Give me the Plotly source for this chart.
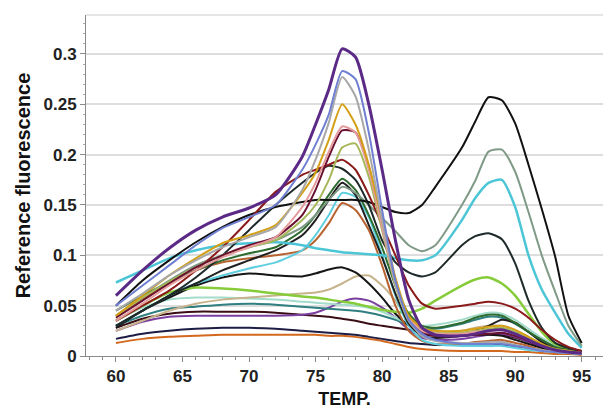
import plotly.graph_objects as go

T = [60, 62, 64, 66, 68, 70, 72, 74, 75, 76, 77, 78, 79, 80, 81, 82, 83, 84, 86, 87, 88, 89, 90, 91, 92, 93, 94, 95]

orange_low = [0.013, 0.017, 0.019, 0.020, 0.021, 0.021, 0.021, 0.021, 0.021, 0.020, 0.020, 0.019, 0.017, 0.015, 0.012, 0.009, 0.007, 0.006, 0.005, 0.005, 0.005, 0.005, 0.004, 0.004, 0.003, 0.002, 0.002, 0.001]
navy_low = [0.017, 0.022, 0.025, 0.027, 0.028, 0.028, 0.027, 0.025, 0.024, 0.023, 0.022, 0.021, 0.019, 0.017, 0.015, 0.013, 0.012, 0.011, 0.011, 0.011, 0.011, 0.011, 0.010, 0.008, 0.006, 0.004, 0.003, 0.002]
blackred_low = [0.028, 0.037, 0.042, 0.044, 0.044, 0.044, 0.043, 0.041, 0.040, 0.039, 0.037, 0.035, 0.032, 0.030, 0.028, 0.026, 0.024, 0.023, 0.022, 0.022, 0.022, 0.021, 0.018, 0.014, 0.010, 0.006, 0.004, 0.002]
purple_low = [0.025, 0.034, 0.039, 0.040, 0.040, 0.040, 0.040, 0.041, 0.043, 0.048, 0.054, 0.057, 0.055, 0.048, 0.038, 0.026, 0.018, 0.016, 0.017, 0.019, 0.021, 0.022, 0.019, 0.014, 0.009, 0.006, 0.004, 0.002]
teal = [0.030, 0.040, 0.047, 0.049, 0.051, 0.052, 0.051, 0.049, 0.048, 0.047, 0.046, 0.045, 0.043, 0.040, 0.036, 0.031, 0.027, 0.027, 0.032, 0.036, 0.039, 0.038, 0.032, 0.024, 0.016, 0.010, 0.006, 0.003]
mint = [0.035, 0.048, 0.056, 0.058, 0.058, 0.057, 0.056, 0.054, 0.053, 0.052, 0.051, 0.050, 0.048, 0.044, 0.038, 0.032, 0.030, 0.031, 0.036, 0.040, 0.043, 0.042, 0.036, 0.027, 0.018, 0.011, 0.006, 0.004]
tan = [0.025, 0.035, 0.045, 0.052, 0.056, 0.058, 0.060, 0.062, 0.063, 0.066, 0.072, 0.079, 0.080, 0.070, 0.055, 0.036, 0.026, 0.023, 0.025, 0.028, 0.030, 0.030, 0.026, 0.019, 0.012, 0.007, 0.005, 0.003]
black88 = [0.028, 0.045, 0.058, 0.070, 0.078, 0.082, 0.080, 0.079, 0.082, 0.086, 0.088, 0.083, 0.072, 0.058, 0.042, 0.030, 0.022, 0.020, 0.020, 0.021, 0.021, 0.020, 0.016, 0.012, 0.008, 0.005, 0.004, 0.002]
lime = [0.035, 0.050, 0.063, 0.068, 0.067, 0.065, 0.062, 0.059, 0.058, 0.056, 0.054, 0.052, 0.049, 0.046, 0.044, 0.043, 0.047, 0.055, 0.070, 0.076, 0.078, 0.072, 0.060, 0.042, 0.024, 0.012, 0.007, 0.004]
brown = [0.040, 0.057, 0.072, 0.085, 0.093, 0.097, 0.100, 0.105, 0.115, 0.132, 0.152, 0.145, 0.125, 0.090, 0.050, 0.025, 0.015, 0.012, 0.012, 0.014, 0.015, 0.016, 0.013, 0.010, 0.006, 0.004, 0.003, 0.002]
cyan2 = [0.030, 0.045, 0.060, 0.072, 0.080, 0.087, 0.093, 0.105, 0.120, 0.140, 0.162, 0.158, 0.138, 0.100, 0.060, 0.030, 0.016, 0.012, 0.010, 0.010, 0.010, 0.010, 0.008, 0.006, 0.005, 0.004, 0.003, 0.002]
black3 = [0.030, 0.045, 0.060, 0.072, 0.085, 0.095, 0.105, 0.120, 0.135, 0.155, 0.172, 0.160, 0.130, 0.098, 0.062, 0.032, 0.020, 0.018, 0.020, 0.025, 0.030, 0.036, 0.033, 0.024, 0.014, 0.008, 0.005, 0.003]
darkgreen = [0.045, 0.060, 0.073, 0.085, 0.095, 0.102, 0.108, 0.125, 0.140, 0.160, 0.176, 0.165, 0.140, 0.108, 0.070, 0.042, 0.030, 0.028, 0.033, 0.038, 0.041, 0.040, 0.033, 0.024, 0.016, 0.009, 0.006, 0.004]
cyan1 = [0.073, 0.085, 0.097, 0.105, 0.110, 0.112, 0.113, 0.110, 0.107, 0.105, 0.103, 0.102, 0.101, 0.100, 0.097, 0.095, 0.095, 0.100, 0.135, 0.157, 0.172, 0.175, 0.148, 0.100, 0.066, 0.043, 0.022, 0.008]
greygreen = [0.040, 0.058, 0.075, 0.090, 0.100, 0.108, 0.115, 0.128, 0.140, 0.155, 0.168, 0.162, 0.150, 0.137, 0.124, 0.110, 0.104, 0.110, 0.150, 0.174, 0.203, 0.205, 0.183, 0.143, 0.100, 0.064, 0.030, 0.010]
slate = [0.030, 0.045, 0.060, 0.078, 0.100, 0.125, 0.150, 0.172, 0.182, 0.189, 0.186, 0.175, 0.150, 0.115, 0.093, 0.083, 0.079, 0.083, 0.110, 0.119, 0.122, 0.116, 0.092, 0.055, 0.028, 0.013, 0.008, 0.005]
black2 = [0.050, 0.075, 0.095, 0.113, 0.128, 0.140, 0.148, 0.153, 0.155, 0.155, 0.155, 0.155, 0.153, 0.148, 0.143, 0.142, 0.150, 0.168, 0.207, 0.233, 0.257, 0.254, 0.231, 0.190, 0.146, 0.099, 0.040, 0.013]
darkred = [0.035, 0.050, 0.065, 0.085, 0.108, 0.135, 0.163, 0.180, 0.185, 0.190, 0.195, 0.185, 0.160, 0.130, 0.100, 0.070, 0.052, 0.047, 0.050, 0.052, 0.054, 0.052, 0.047, 0.038, 0.026, 0.016, 0.009, 0.005]
olive = [0.040, 0.058, 0.074, 0.088, 0.100, 0.108, 0.115, 0.135, 0.150, 0.175, 0.207, 0.211, 0.178, 0.125, 0.070, 0.035, 0.024, 0.022, 0.023, 0.025, 0.027, 0.028, 0.024, 0.017, 0.011, 0.007, 0.005, 0.003]
maroon = [0.038, 0.055, 0.072, 0.088, 0.100, 0.110, 0.118, 0.140, 0.165, 0.198, 0.224, 0.222, 0.188, 0.132, 0.075, 0.037, 0.024, 0.020, 0.020, 0.021, 0.022, 0.023, 0.020, 0.015, 0.010, 0.006, 0.004, 0.002]
pink = [0.035, 0.052, 0.070, 0.085, 0.098, 0.108, 0.118, 0.148, 0.172, 0.203, 0.228, 0.222, 0.185, 0.128, 0.072, 0.038, 0.025, 0.022, 0.022, 0.024, 0.025, 0.026, 0.022, 0.016, 0.010, 0.006, 0.004, 0.003]
gold = [0.040, 0.060, 0.080, 0.097, 0.112, 0.120, 0.130, 0.162, 0.182, 0.215, 0.250, 0.230, 0.190, 0.135, 0.078, 0.040, 0.028, 0.025, 0.025, 0.027, 0.029, 0.030, 0.026, 0.019, 0.012, 0.007, 0.005, 0.003]
grey = [0.045, 0.062, 0.080, 0.095, 0.108, 0.118, 0.128, 0.165, 0.195, 0.232, 0.277, 0.258, 0.205, 0.135, 0.072, 0.035, 0.020, 0.015, 0.013, 0.013, 0.014, 0.014, 0.011, 0.008, 0.006, 0.004, 0.003, 0.002]
blue = [0.050, 0.070, 0.090, 0.110, 0.127, 0.138, 0.150, 0.185, 0.210, 0.240, 0.283, 0.275, 0.222, 0.145, 0.075, 0.036, 0.022, 0.016, 0.012, 0.012, 0.012, 0.012, 0.010, 0.008, 0.005, 0.004, 0.003, 0.002]
purple_top = [0.060, 0.085, 0.107, 0.125, 0.138, 0.147, 0.160, 0.198, 0.230, 0.265, 0.305, 0.297, 0.250, 0.185, 0.115, 0.056, 0.028, 0.021, 0.020, 0.022, 0.025, 0.026, 0.022, 0.016, 0.010, 0.006, 0.004, 0.003]

series = [
    (orange_low, "#d2691e", 2), (navy_low, "#1c1c44", 2), (blackred_low, "#3a0e14", 2),
    (purple_low, "#7b3fa0", 2), (teal, "#2f7f80", 2), (mint, "#a3dccb", 2), (tan, "#c8b48c", 2),
    (black88, "#151515", 2), (lime, "#86cc3a", 2.5), (brown, "#b8622f", 2), (cyan2, "#5fcfe0", 2),
    (black3, "#202020", 2), (darkgreen, "#2e6b2e", 2), (cyan1, "#4cc6d6", 2.5),
    (greygreen, "#7f9a86", 2), (slate, "#1e2a2a", 2), (black2, "#111111", 2), (darkred, "#8b1a1a", 2),
    (olive, "#a6b85a", 2), (maroon, "#6a1030", 2), (pink, "#e59b9b", 2), (gold, "#d4a017", 2),
    (grey, "#a8a8a8", 2), (blue, "#6f7fd1", 2), (purple_top, "#5b2a86", 3),
]

fig = go.Figure()
for vals, col, w in series:
    fig.add_trace(go.Scatter(x=T, y=vals, mode="lines",
                             line=dict(color=col, width=w, shape="spline", smoothing=0.6),
                             showlegend=False, hoverinfo="skip"))

FONT = "Liberation Sans, Arial, sans-serif"

fig.update_layout(
    width=603, height=409,
    margin=dict(l=86, r=0, t=15, b=53),
    paper_bgcolor="white", plot_bgcolor="white",
    xaxis=dict(
        range=[57.75, 96.6], tickvals=[60, 65, 70, 75, 80, 85, 90, 95],
        showgrid=False, zeroline=False, showline=True, linecolor="#8a8a8a", linewidth=1,
        ticks="outside", ticklen=5, tickcolor="#8a8a8a",
        minor=dict(dtick=1, tick0=60, ticks="outside", ticklen=3, tickcolor="#8a8a8a", showgrid=False),
        tickfont=dict(family=FONT, size=17, color="#222", weight="bold"),
        title=dict(text="TEMP.", font=dict(family=FONT, size=18, color="#111", weight="bold"), standoff=6),
    ),
    yaxis=dict(
        range=[0, 0.3387], tickvals=[0, 0.05, 0.1, 0.15, 0.2, 0.25, 0.3],
        ticktext=["0", "0.05", "0.1", "0.15", "0.2", "0.25", "0.3"],
        showgrid=True, gridcolor="#dddddd", gridwidth=1.5, zeroline=False,
        showline=True, linecolor="#8a8a8a", linewidth=1,
        ticks="outside", ticklen=5, tickcolor="#8a8a8a",
        minor=dict(dtick=0.01, tick0=0, ticks="outside", ticklen=2, tickcolor="#aaaaaa", showgrid=False),
        tickfont=dict(family=FONT, size=17, color="#222", weight="bold"),
        title=dict(text="Reference fluorescence", font=dict(family=FONT, size=20, color="#111", weight="bold"), standoff=7),
    ),
    shapes=[dict(type="line", xref="paper", yref="paper", x0=0, x1=1, y0=1, y1=1,
                 line=dict(color="#dddddd", width=1.5))],
)

fig.write_html("out.html")
